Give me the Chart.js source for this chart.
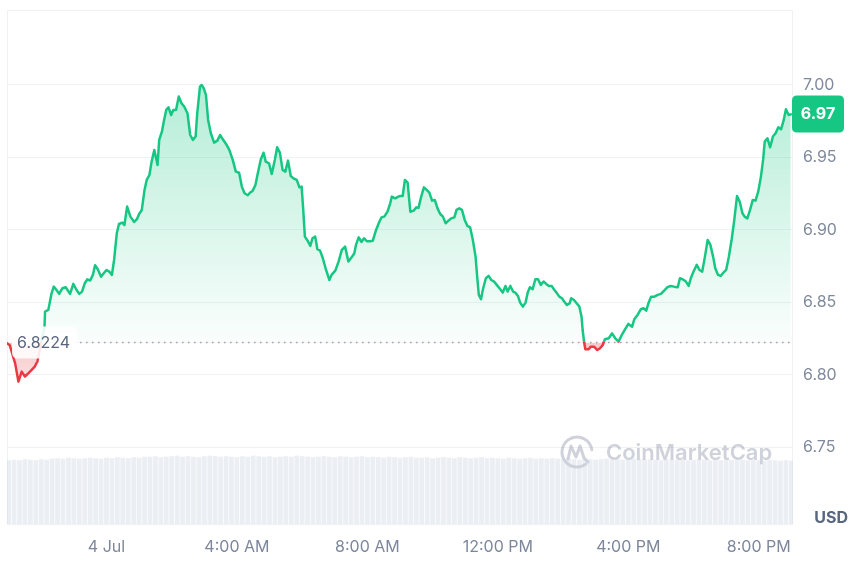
<!DOCTYPE html>
<html><head><meta charset="utf-8">
<script src="https://cdn.jsdelivr.net/npm/chart.js@4.4.1/dist/chart.umd.min.js"></script>
<style>html,body{margin:0;padding:0;background:#fff}#wrap{position:relative;width:849px;height:561px}</style>
</head><body><div id="wrap"><canvas id="c"></canvas></div>
<script>
// ---- data (times in minutes from 4 Jul 00:00) ----
const BASELINE = 6.8224;
const times = [-183,-178,-168,-162,-156,-150,-144,-138,-132,-129,-127,-120,-114,-113,-107,-101,-97,-92,-87,-81,-75,-67,-61,-55,-50,-45,-40,-35,-30,-25,-21,-16,-10,-5,0,5,10,14,19,23,29,33,38,44,51,56,60,65,70,74,79,83,88,94,97,102,106,110,114,119,123,128,133,138,143,149,154,159,164,167,172,175,179,183,187,192,198,204,209,214,220,226,232,238,244,249,254,260,264,269,274,279,284,289,293,299,304,310,314,319,324,329,334,339,344,350,355,359,362,365,370,375,379,384,388,393,398,404,410,414,421,427,433,439,445,451,456,459,464,469,474,479,485,490,496,502,506,511,517,522,525,531,537,540,545,549,554,559,565,570,574,579,584,589,594,599,604,609,614,619,624,629,634,640,644,649,654,659,664,669,674,679,682,685,689,693,698,703,708,713,718,723,729,734,738,743,748,752,757,761,766,771,775,779,784,789,794,799,804,809,814,819,824,828,833,838,842,847,852,855,860,865,870,874,876,879,881,887,891,897,903,908,913,917,924,930,936,942,948,954,960,967,971,977,983,988,993,997,1002,1008,1014,1020,1026,1032,1038,1044,1051,1055,1062,1066,1071,1075,1080,1086,1091,1096,1101,1106,1111,1116,1120,1125,1130,1135,1140,1145,1150,1155,1160,1165,1170,1174,1179,1184,1189,1194,1199,1204,1208,1211,1216,1221,1226,1231,1236,1241,1246,1250,1255,1259];
const prices = [6.8218,6.8205,6.8080,6.7954,6.8023,6.7989,6.8011,6.8034,6.8057,6.8080,6.8092,6.8223,6.8333,6.8437,6.8448,6.8563,6.8609,6.8586,6.8559,6.8598,6.8605,6.8559,6.8628,6.8586,6.8559,6.8575,6.8632,6.8660,6.8651,6.8690,6.8756,6.8729,6.8678,6.8701,6.8724,6.8713,6.8690,6.8793,6.8977,6.9041,6.9051,6.9034,6.9161,6.9092,6.9055,6.9074,6.9110,6.9138,6.9276,6.9345,6.9379,6.9471,6.9552,6.9448,6.9621,6.9678,6.9759,6.9828,6.9846,6.9793,6.9828,6.9828,6.9920,6.9874,6.9851,6.9805,6.9655,6.9621,6.9644,6.9805,6.9989,7.0000,6.9977,6.9931,6.9759,6.9667,6.9602,6.9616,6.9655,6.9625,6.9593,6.9552,6.9487,6.9402,6.9395,6.9299,6.9253,6.9239,6.9257,6.9271,6.9310,6.9402,6.9487,6.9533,6.9471,6.9460,6.9386,6.9487,6.9570,6.9533,6.9414,6.9402,6.9478,6.9372,6.9356,6.9345,6.9294,6.9299,6.9138,6.8954,6.8926,6.8890,6.8943,6.8954,6.8867,6.8857,6.8805,6.8724,6.8655,6.8690,6.8720,6.8782,6.8862,6.8885,6.8782,6.8811,6.8839,6.8897,6.8949,6.8917,6.8943,6.8922,6.8922,6.8926,6.9000,6.9057,6.9087,6.9092,6.9126,6.9184,6.9230,6.9218,6.9230,6.9234,6.9234,6.9345,6.9326,6.9126,6.9133,6.9156,6.9152,6.9230,6.9294,6.9276,6.9257,6.9202,6.9207,6.9149,6.9110,6.9092,6.9046,6.9064,6.9080,6.9087,6.9138,6.9149,6.9138,6.9069,6.9028,6.9018,6.8931,6.8816,6.8678,6.8552,6.8522,6.8598,6.8667,6.8683,6.8655,6.8644,6.8621,6.8598,6.8568,6.8614,6.8575,6.8614,6.8575,6.8568,6.8545,6.8499,6.8471,6.8499,6.8568,6.8605,6.8591,6.8660,6.8660,6.8621,6.8644,6.8628,6.8614,6.8614,6.8586,6.8568,6.8540,6.8529,6.8506,6.8483,6.8494,6.8529,6.8517,6.8494,6.8471,6.8402,6.8310,6.8218,6.8177,6.8177,6.8195,6.8195,6.8172,6.8184,6.8207,6.8246,6.8253,6.8287,6.8253,6.8230,6.8276,6.8315,6.8352,6.8333,6.8384,6.8414,6.8453,6.8460,6.8444,6.8494,6.8540,6.8540,6.8552,6.8559,6.8582,6.8605,6.8614,6.8609,6.8605,6.8667,6.8655,6.8644,6.8614,6.8667,6.8713,6.8759,6.8724,6.8713,6.8816,6.8931,6.8897,6.8816,6.8736,6.8690,6.8683,6.8706,6.8724,6.8816,6.8931,6.9069,6.9234,6.9195,6.9115,6.9092,6.9080,6.9138,6.9207,6.9202,6.9264,6.9368,6.9483,6.9609,6.9632,6.9570,6.9644,6.9667,6.9708,6.9694,6.9759,6.9832,6.9793,6.9797];
const volTimes = [];
for (let t = -180; t <= 1260; t += 10) volTimes.push(t);
const volumes = [124,125,124,126,125,124,126,125,
127,128,127,129,128,127,128,129,128,127,129,128,130,129,128,130,129,131,
131,132,130,131,132,133,131,132,131,130,132,133,132,131,132,131,130,132,131,133,132,131,132,130,131,132,131,133,132,131,130,131,132,131,130,132,131,130,131,132,130,131,130,129,131,130,129,130,131,129,
129,130,128,129,130,129,128,130,129,128,129,130,128,129,128,127,129,128,127,128,129,127,128,127,128,127,
126,127,126,125,127,126,125,126,127,125,126,125,126,127,126,125,126,125,124,126,125,126,125,124,125,126,125,124,125,124,126,125,124,125,124,125,124,123,125,124,123,124,123];
const xTickTimes = [0, 240, 480, 720, 960, 1200];
const xTickLabels = ['4 Jul', '4:00 AM', '8:00 AM', '12:00 PM', '4:00 PM', '8:00 PM'];
const yTickValues = [6.75, 6.80, 6.85, 6.90, 6.95, 7.00];

const GREEN = '#16c784', RED = '#ea3943';
const FONT = 'Inter';

function rr(ctx, x, y, w, h, r) {
  ctx.beginPath();
  ctx.moveTo(x + r, y); ctx.lineTo(x + w - r, y); ctx.quadraticCurveTo(x + w, y, x + w, y + r);
  ctx.lineTo(x + w, y + h - r); ctx.quadraticCurveTo(x + w, y + h, x + w - r, y + h);
  ctx.lineTo(x + r, y + h); ctx.quadraticCurveTo(x, y + h, x, y + h - r);
  ctx.lineTo(x, y + r); ctx.quadraticCurveTo(x, y, x + r, y); ctx.closePath();
}

const deco = {
  id: 'deco',
  beforeDatasetsDraw(chart) {
    const { ctx, chartArea: a, scales } = chart;
    ctx.save();
    ctx.strokeStyle = '#eff2f5'; ctx.lineWidth = 1;
    ctx.strokeRect(a.left + 0.5, a.top + 0.5, a.right - a.left - 1, a.bottom - a.top);
    // watermark
    const wc = 'rgba(128,138,157,0.38)';
    ctx.strokeStyle = wc; ctx.lineWidth = 3; ctx.lineCap = 'round'; ctx.lineJoin = 'round';
    const cx = 577, cy = 452;
    ctx.beginPath(); ctx.arc(cx, cy, 15, 0.3 * Math.PI, 1.95 * Math.PI); ctx.stroke();
    ctx.beginPath();
    ctx.moveTo(cx - 9, cy + 7); ctx.lineTo(cx - 6, cy - 6); ctx.lineTo(cx - 1, cy + 5);
    ctx.lineTo(cx + 3, cy - 6); ctx.lineTo(cx + 7, cy + 6); ctx.lineTo(cx + 11, cy + 10);
    ctx.stroke();
    ctx.fillStyle = wc; ctx.font = '600 22px ' + FONT; ctx.textBaseline = 'middle'; ctx.textAlign = 'left';
    ctx.fillText('CoinMarketCap', 606, cy + 1);
    // dotted baseline
    const yb = scales.y.getPixelForValue(BASELINE);
    ctx.setLineDash([1.5, 4.5]); ctx.strokeStyle = '#9aa3b5'; ctx.lineWidth = 1.5; ctx.lineCap = 'butt';
    ctx.beginPath(); ctx.moveTo(80, yb); ctx.lineTo(a.right, yb); ctx.stroke();
    ctx.restore();
  },
  afterDatasetsDraw(chart) {
    const { ctx, chartArea: a, scales } = chart;
    const yb = scales.y.getPixelForValue(BASELINE);
    ctx.save();
    ctx.fillStyle = 'rgba(255,255,255,0.88)';
    rr(ctx, a.left + 5, yb - 16, 65, 32, 6); ctx.fill();
    ctx.fillStyle = '#58667e'; ctx.font = '16px ' + FONT; ctx.textBaseline = 'middle'; ctx.textAlign = 'left';
    ctx.fillText(BASELINE.toFixed(4), a.left + 10, yb + 1);
    const last = prices[prices.length - 1];
    const yl = scales.y.getPixelForValue(last);
    ctx.fillStyle = GREEN; rr(ctx, a.right - 1, yl - 19, 52, 37, 5); ctx.fill();
    ctx.fillStyle = '#fff'; ctx.font = 'bold 16px ' + FONT; ctx.textAlign = 'center';
    ctx.fillText((Math.floor(last * 100) / 100).toFixed(2), a.right + 25, yl);
    ctx.fillStyle = '#58667e'; ctx.textAlign = 'right';
    ctx.fillText('USD', 848, 518);
    ctx.restore();
  }
};

const chart = new Chart(document.getElementById('c'), {
  type: 'line',
  data: {
    datasets: [
      {
        type: 'line',
        data: times.map((t, i) => ({ x: t, y: prices[i] })),
        borderColor: GREEN, borderWidth: 2.5, pointRadius: 0, tension: 0,
        borderJoinStyle: 'round', borderCapStyle: 'round',
        fill: { target: { value: BASELINE }, above: 'rgba(22,199,132,0.15)', below: 'rgba(234,57,67,0.22)' },
        order: 1, yAxisID: 'y'
      },
      {
        type: 'bar',
        data: volTimes.map((t, i) => ({ x: t, y: volumes[i] })),
        backgroundColor: 'rgba(200,208,222,0.36)', borderWidth: 0,
        barPercentage: 0.88, categoryPercentage: 1,
        order: 2, yAxisID: 'y2'
      }
    ]
  },
  options: {
    responsive: true, maintainAspectRatio: false, animation: false, events: [],
    layout: { padding: { left: 7, top: 10, right: 0, bottom: 0 } },
    plugins: { legend: { display: false }, tooltip: { enabled: false } },
    scales: {
      x: {
        type: 'linear', min: -183, max: 1263, offset: false,
        afterBuildTicks: s => { s.ticks = xTickTimes.map(v => ({ value: v })); },
        afterFit: s => { s.height = 37; s.paddingLeft = 0; s.paddingRight = 0; },
        ticks: { autoSkip: false, maxRotation: 0, padding: 14, color: '#7d879b', font: { family: FONT, size: 16 },
          callback: v => xTickLabels[xTickTimes.indexOf(v)] },
        grid: { display: false, drawTicks: false }, border: { display: false }
      },
      y: {
        position: 'right', min: 6.6972, max: 7.0517,
        afterBuildTicks: s => { s.ticks = yTickValues.map(v => ({ value: v })); },
        afterFit: s => { s.width = 56; s.paddingTop = 0; s.paddingBottom = 0; },
        ticks: { padding: 10, color: '#808a9d', font: { family: FONT, size: 16 }, callback: v => v.toFixed(2) },
        grid: { color: '#eff2f5', drawTicks: false }, border: { display: false }
      },
      y2: { display: false, min: 0, max: 1000 }
    }
  },
  plugins: [deco]
});

// gradients from the laid-out scales
(function () {
  const { ctx, chartArea: a, scales } = chart;
  const yb = scales.y.getPixelForValue(BASELINE);
  const yTop = scales.y.getPixelForValue(7.00);
  const f = (yb - a.top) / (a.bottom - a.top);
  const line = ctx.createLinearGradient(0, a.top, 0, a.bottom);
  line.addColorStop(0, GREEN); line.addColorStop(f, GREEN);
  line.addColorStop(f, RED); line.addColorStop(1, RED);
  const above = ctx.createLinearGradient(0, yTop, 0, yb);
  above.addColorStop(0, 'rgba(22,199,132,0.32)');
  above.addColorStop(1, 'rgba(22,199,132,0.02)');
  const below = ctx.createLinearGradient(0, yb, 0, yb + 40);
  below.addColorStop(0, 'rgba(234,57,67,0.28)');
  below.addColorStop(1, 'rgba(234,57,67,0.16)');
  const ds = chart.data.datasets[0];
  ds.borderColor = line;
  ds.fill = { target: { value: BASELINE }, above: above, below: below };
  chart.update('none');
})();
</script></body></html>
